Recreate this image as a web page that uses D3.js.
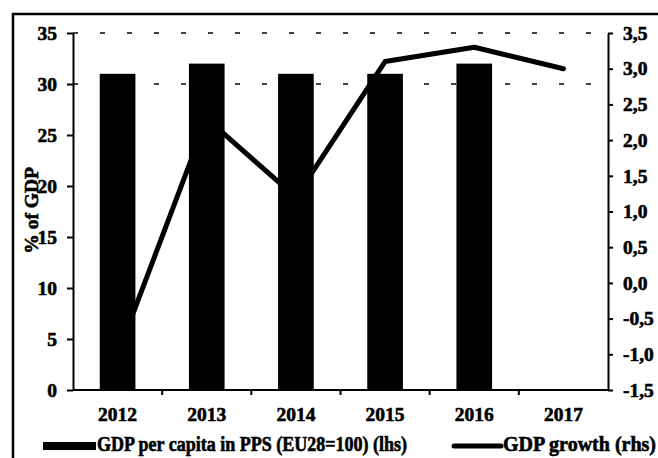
<!DOCTYPE html>
<html>
<head>
<meta charset="utf-8">
<script src="https://cdn.jsdelivr.net/npm/d3@7/dist/d3.min.js"></script>
<style>
  html, body { margin: 0; padding: 0; background: #fff; }
  svg { display: block; }
  text { font-family: "Liberation Serif", "Times New Roman", serif; font-weight: bold; fill: #000; }
</style>
</head>
<body>
<svg id="chart" width="658" height="458"></svg>
<script>
// ---- data ----
const years = ["2012", "2013", "2014", "2015", "2016", "2017"];
const gdpPerCapitaPPS = [31, 32, 31, 31, 32, null];     // lhs
const gdpGrowth = [-1.0, 2.3, 1.2, 3.1, 3.3, 3.0];      // rhs
const leftTicks = [0, 5, 10, 15, 20, 25, 30, 35];
const rightTicks = [-1.5, -1.0, -0.5, 0.0, 0.5, 1.0, 1.5, 2.0, 2.5, 3.0, 3.5];
const gridTicks = [30, 35];
const yTitle = "% of GDP";
const legendBar = "GDP per capita in PPS (EU28=100) (lhs)";
const legendLine = "GDP growth (rhs)";

const svg = d3.select("#chart");
const L = 73, R = 608, T = 33, B = 390;

// frame (right & bottom edges fall outside the picture)
svg.append("rect").attr("x", 13).attr("y", 14).attr("width", 700).attr("height", 500)
  .attr("fill", "none").attr("stroke", "#000").attr("stroke-width", 2.5);

const x = d3.scaleBand().domain(years).range([L, R]).paddingInner(0.6).paddingOuter(0.3);
const yL = d3.scaleLinear().domain([0, 35]).range([B, T]);
const yR = d3.scaleLinear().domain([-1.5, 3.5]).range([B, T]);

// sparse dashed gridlines
svg.append("g").selectAll("line").data(gridTicks).join("line")
  .attr("x1", L).attr("x2", R)
  .attr("y1", d => yL(d)).attr("y2", d => yL(d))
  .attr("stroke", "#000").attr("stroke-width", 1.3)
  .attr("stroke-dasharray", "5,22");

// line (rhs)
const line = d3.line()
  .x((d, i) => x(years[i]) + x.bandwidth() / 2)
  .y(d => yR(d));
svg.append("path").datum(gdpGrowth)
  .attr("d", line).attr("fill", "none").attr("stroke", "#000")
  .attr("stroke-width", 5).attr("stroke-linejoin", "round").attr("stroke-linecap", "round");

// bars (lhs)
const barData = years.map((y, i) => ({ y, v: gdpPerCapitaPPS[i] })).filter(d => d.v != null);
svg.append("g").selectAll("rect").data(barData).join("rect")
  .attr("x", d => x(d.y)).attr("width", x.bandwidth())
  .attr("y", d => yL(d.v)).attr("height", d => yL(0) - yL(d.v))
  .attr("fill", "#000");

const fmtR = d => d3.format(".1f")(d).replace(".", ",").replace("−", "-");

// left axis
const gL = svg.append("g").attr("transform", `translate(${L},0)`)
  .call(d3.axisLeft(yL).tickValues(leftTicks).tickSize(6).tickSizeOuter(0).tickPadding(10).tickFormat(d3.format("d")));
// right axis
const gR = svg.append("g").attr("transform", `translate(${R},0)`)
  .call(d3.axisRight(yR).tickValues(rightTicks).tickSize(5).tickSizeOuter(0).tickPadding(10).tickFormat(fmtR));
// bottom axis (labels only; boundary ticks added below)
const gB = svg.append("g").attr("transform", `translate(0,${B})`)
  .call(d3.axisBottom(x).tickSize(0).tickSizeOuter(0).tickPadding(17));

[gL, gR, gB].forEach(g => {
  g.select(".domain").attr("stroke", "#000").attr("stroke-width", 2);
  g.selectAll(".tick line").attr("stroke", "#000").attr("stroke-width", 2);
  g.selectAll(".tick text").attr("font-size", 19.5)
    .attr("font-family", '"Liberation Serif", "Times New Roman", serif').attr("font-weight", "bold")
    .attr("fill", "#000").attr("stroke", "#000").attr("stroke-width", 0.6);
});
gB.select(".domain").attr("d", `M${L},0H${R}`);

// category boundary ticks on x axis
const bounds = years.slice(1).map(y => x(y) - x.step() * x.paddingInner() / 2);
svg.append("g").selectAll("line").data(bounds).join("line")
  .attr("x1", d => d).attr("x2", d => d).attr("y1", B).attr("y2", B + 5)
  .attr("stroke", "#000").attr("stroke-width", 2);

// y title
svg.append("text")
  .attr("transform", `translate(38,${(yL(20) + yL(16)) / 2 + 4}) rotate(-90)`)
  .attr("text-anchor", "middle").attr("font-size", 19.5)
  .attr("stroke", "#000").attr("stroke-width", 0.6)
  .text(yTitle);

// legend
const ly = 446;
svg.append("rect").attr("x", 43).attr("y", ly - 4).attr("width", 53).attr("height", 8).attr("fill", "#000");
svg.append("text").attr("x", 97).attr("y", ly + 5).attr("font-size", 20)
  .attr("textLength", 310).attr("lengthAdjust", "spacingAndGlyphs")
  .attr("stroke", "#000").attr("stroke-width", 0.6).text(legendBar);
svg.append("line").attr("x1", 454).attr("x2", 501).attr("y1", ly).attr("y2", ly)
  .attr("stroke", "#000").attr("stroke-width", 5).attr("stroke-linecap", "round");
svg.append("text").attr("x", 503).attr("y", ly + 5).attr("font-size", 20)
  .attr("textLength", 153).attr("lengthAdjust", "spacingAndGlyphs")
  .attr("stroke", "#000").attr("stroke-width", 0.6).text(legendLine);
</script>
</body>
</html>
